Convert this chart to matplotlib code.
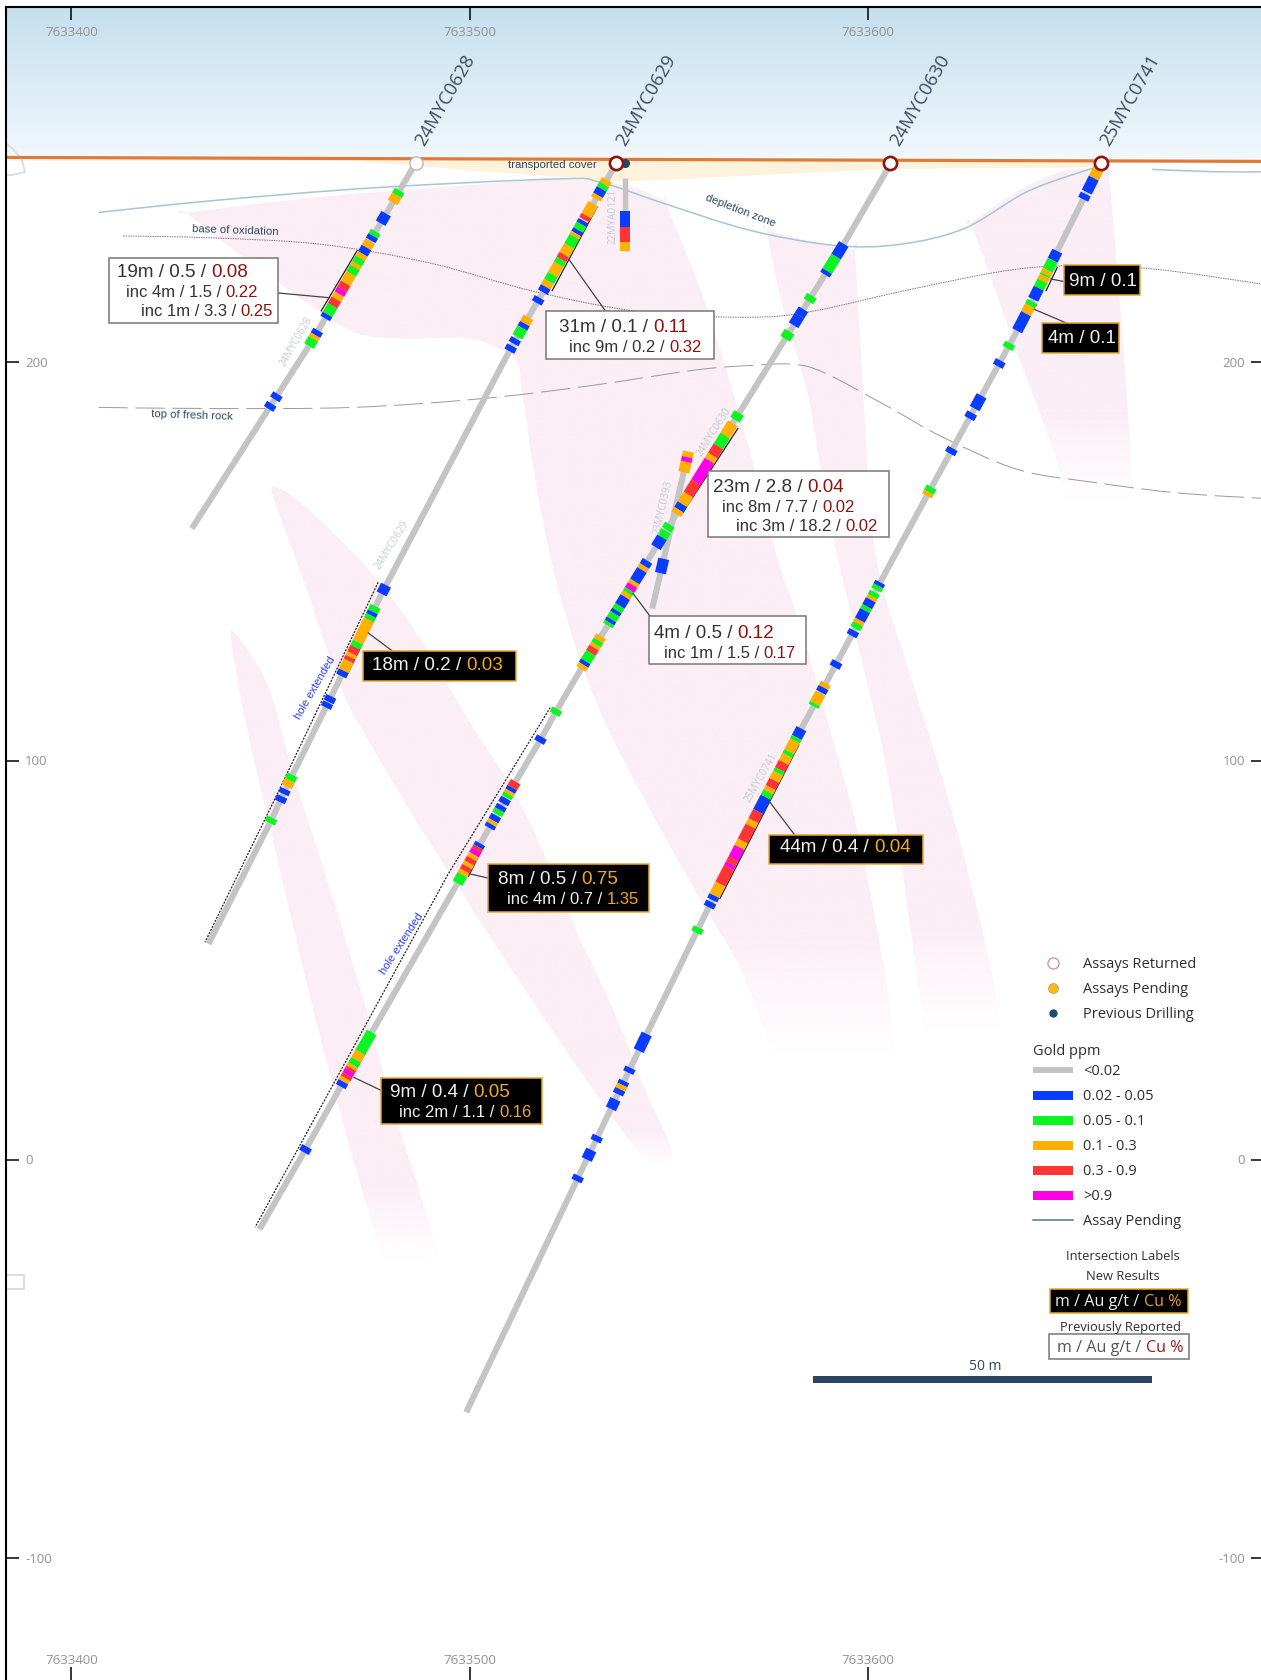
import numpy as np
import matplotlib
matplotlib.use("Agg")
import matplotlib.pyplot as plt
import matplotlib.transforms as mtrans
from matplotlib.path import Path
from matplotlib.patches import PathPatch, Rectangle, Polygon

W, H = 1261, 1680
BASE_NORTHING = 7633400
X_TICKS = [0, 100, 200]
Y_TICKS = [200, 100, 0, -100]

# ---- hole traces: X (m from base northing), RL (m) ----
H628_X = [86.4, 60.2, 30.2]
H628_RL = [250, 205, 158.3]
H629_X = [136.8, 110.4, 78.4, 68, 64.9, 54.6, 50.1, 34.4]
H629_RL = [250, 203.7, 143, 121.9, 115.5, 94.7, 85, 54.1]
H630_X = [205.6, 193.2, 167.7, 154.3, 128.3, 121.7, 117.8, 111.1, 105.3, 97.6, 68.2, 58.7, 47.2]
H630_RL = [249.7, 228.5, 187.4, 165.9, 123.7, 112.5, 105.4, 94.1, 83.9, 70.5, 19.4, 2.4, -17.5]
H741_X = [258.4, 238.4, 215.3, 182.5, 161.8, 143.5, 127.3, 99.1]
H741_RL = [249.7, 209.7, 167.5, 106.7, 67, 29.6, -4.3, -63.4]
HA121_X = [139.0, 139.0]
HA121_RL = [246.2, 228.0]
H393_X = [154.9, 145.8]
H393_RL = [177.5, 138.2]

# ---- assay intervals: top RL, bottom RL, grade (B G O R M) ----
H628_TOP = [243.1,241.9,237.3,232.8,231.7,230.4,228.8,227.2,226.1,224.7,223.8,222.2,219.8,218.3,217.1,215.8,214.2,212,208,206.8,205.9,192,189.6]
H628_BOT = [241.9,240.1,234.9,231.7,230.6,228.8,227.2,226.1,224.7,223.8,222.2,219.8,218.3,217.1,215.8,214.2,212,211,206.8,205.9,204.1,190.7,188.3]
H628_GRADE = "GOBGBOBOGOGORMORGBBOGBB"

H629_TOP = [245.8,244.6,243.5,241.9,239.8,236.8,235.5,234.6,233.2,232.3,231.5,229.2,227,225.8,224.6,222,220.3,218.9,216.2,211.3,209.7,208.6,205.9,204.1,144.1,138.8,137.4,136.5,135.4,129.8,128.5,126.9,126,125.1,122.6,116.2,114.6,96.5,95.1,92.9,91.1,85.7]
H629_BOT = [244.6,243.5,241.9,241,236.8,235.8,234.6,233.2,232.3,231.5,229.2,227,225.8,224.6,222,220.3,218.9,217.6,214.9,209.7,208.6,206.4,204.7,202.8,141.9,137.4,136.5,135.4,129.8,128.5,126.9,126,125.1,122.6,121.3,114.8,113.4,95.1,93.5,91.7,89.7,84.4]
H629_GRADE = "OGBOORBGBOGORGOGOBBOBGBBBGBGOGRORO" + "BBBGOBBG"

H630_TOP = [229.7,226.5,222.9,216.7,213.3,211.7,207.7,187.3,184.7,181.6,178.9,176.6,175.3,169.9,166.8,164.4,163,159.3,157.7,156.1,150.2,148.9,147.9,145,144.1,142.9,142.1,141.1,138.9,137.7,136.9,135.5,134.7,131.3,130.2,129.2,128.4,127.1,125,124.1,113,106,94.8,93.3,92.4,91.7,90.6,88.8,87.7,86.3,85,84.1,79.3,78.4,77.6,76.5,75.5,74.4,73.5,72.4,71.4,31.9,26.9,25,23.7,22.9,22.3,21.2,20.4,19.5,3.2]
H630_BOT = [226.5,222.9,222,215.3,211.7,209.3,205.9,185.6,181.6,178.9,176.6,175.3,169.9,166.8,164.4,163,161.9,158,156.1,153.6,148.9,147.9,145,144.1,142.9,142.1,141.1,138.9,137.7,136.9,135.5,134.7,134,130.2,129.2,128.4,127.1,125,124.1,123.1,111.7,104.7,93.3,92.4,91.7,90.8,89.3,87.7,86.6,85,84.1,83.2,78.4,77.6,76.5,75.5,74.4,73.5,72.4,71.4,69.3,26.9,25,23.7,22.9,22.3,21.2,20.4,19.5,18.3,1.8]
H630_GRADE = ("BGB" + "GBBG" + "G" + "OGROMROBO" + "GGB" + "BOBOMGOBGBGBG" + "OGORGBO" + "G" + "B"
              + "RBOG" + "BBGBOB" + "BRMORORO" + "G" + "GOGORMROB" + "B")

H741_TOP = [248.7,246.2,242.2,227.9,225.6,223.1,222,221.6,220.4,218.6,215.3,214.2,212.2,204.8,200.4,191.6,187.3,178.4,168.7,167.4,144.8,143.9,142.3,141.2,140.4,138.7,137.7,135.3,134.4,132.7,124.9,119.5,118.4,117,114.4,108.1,105.9,105,102.3,101.4,99.6,97.8,96.9,95.1,93.3,92.2,90.9,87.3,85,83.6,79.9,78.3,75.4,74.2,73.2,69.1,66.2,64.6,58.2,31.5,23,19.7,18.7,17.6,15.1,5.9,2.4,-4.1]
H741_BOT = [246.2,242.7,240.9,225.6,223.1,222,221.6,220.4,218.6,215.8,214.2,212.2,207.9,203.5,199,188.4,185.9,177.1,167.4,166.5,143.9,142.9,141.2,140.4,138.7,137.7,135.3,134.4,133.2,131.4,123.5,118.4,117.2,114.4,113.7,105.9,105,102.3,101.4,99.6,97.8,96.9,95.1,93.3,92.2,90.9,87.3,85,83.6,79.9,78.3,75.4,74.2,73.2,69.1,66.2,65.1,63.3,56.9,27.3,21.8,18.7,17.6,16.4,12.7,4.6,0,-5.4]
H741_GRADE = ("OBB" + "BGOGOGB" + "GOB" + "GBBBB" + "GO" + "BGGOBGBOGB" + "B" + "OBOG"
              + "BGOGORGOROGBROROMRMROBB" + "G" + "BBBOBBBBB")

HA121_TOP = [238, 234, 230.1]
HA121_BOT = [234, 230.1, 228]
HA121_GRADE = "BRO"
H393_TOP = [177.6, 176.2, 175, 150.7]
H393_BOT = [176.2, 175, 172.4, 147.1]
H393_GRADE = "OMOB"

GRADE_LABELS = ["<0.02", "0.02 - 0.05", "0.05 - 0.1", "0.1 - 0.3", "0.3 - 0.9", ">0.9", "Assay Pending"]
GRADE_COLORS = {"N": "#c4c4c4", "B": "#0a3cff", "G": "#0cf522", "O": "#ffb000", "R": "#ff3535", "M": "#ff00e6"}

# ---- geology ----
DEPL1_X = [6.8,35.9,76.2,122,132.7,148.9,170.4,191.9,208,224.2,240.3,256.5]
DEPL1_RL = [237.6,240.6,243.8,246,245.2,239.8,233.1,229.3,229.6,233.6,243,248.7]
DEPL2_X = [271.3,287.4,298.9]
DEPL2_RL = [248.4,247.8,247.8]
OXID_X = [13,35.9,62.7,89.6,116.5,143.4,170.4,186.5,210.7,240.3,268.3,298.9]
OXID_RL = [231.7,231.2,229.6,225,217.7,212.6,211.3,212.9,218.3,223.7,223.7,219.6]
FRESH_X = [6.8,35.9,70.9,103.1,130,156.9,170.4,181.1,189.2,205.3,218.8,237.6,256.5,278,298.9]
FRESH_RL = [188.7,188.4,188.7,190.9,194.1,198.1,199.2,199.5,197.3,188.7,181.2,173.1,169.9,167.2,165.9]
COVER_X = [65.6,99.7,139,164.5,205.7,258.7,260.8,205,136]
COVER_RL = [251,248.2,245.3,246.6,248.5,248.9,250.5,250.8,251]
GROUND_X = [-16.44, 299.3]
GROUND_RL = [251.4, 250.4]

# repeated vertices keep the sharp corners of the zones
ZONE_A_X = [28.8,28.8,60.5,94.1,121,139,149,149,157.8,164.1,170.1,177,183,190,197.9,204.8,206.5,206.5,178,178,169.1,158.2,145.3,132.4,123.4,117.5,113.5,112.1,108.7,99.7,82.9,71.7,60.5,49.3,38.1]
ZONE_A_RL = [237.5,237.5,241.3,244,245.8,244.4,240.4,240.4,218.5,199,178.5,151.6,133.7,109.4,80,42.9,25,25,20,20,45.4,64.6,87.6,113.2,138.8,164.4,190,199.6,202.8,206,206,207.3,214,222,230.1]
ZONE_B_X = [174.5,174.5,185,196.7,196.7,198.3,198.9,201.9,210.8,221.7,231.7,233.5,233.5,215,215,205.8,197.9,190,185,178.2]
ZONE_B_RL = [233.2,233.2,230.5,228.3,228.3,201.4,190,151.6,120.9,85,44.1,28,28,25,25,91.5,127.3,161.9,191.3,215.6]
ZONE_C_X = [225.8,225.8,238.5,249.1,256.5,260.3,260.3,262.9,265.5,266.1,266.3,266.3,251.2,251.2,247,238.5,231.1]
ZONE_C_RL = [235,235,243.5,248,248.7,248.9,248.9,219.4,183.5,171.9,160,160,158,158,176.3,199.6,220.3]
ZONE_D_X = [50.8,57.4,69.9,79.1,89.2,99.2,110.1,118.5,126.8,136,144.4,150.7,147.3,140.2,124.3,107.6,97.5,86.7,74.9,67.4,57.4,51.1]
ZONE_D_RL = [168.8,164.9,153.1,142.6,128.1,111,94,77,57.3,37.6,16.6,2.1,-1.8,4.8,27.1,52,67.8,84.8,104.5,118.9,147.8,164.9]
ZONE_E_X = [40.6,44.8,49.8,55.7,64.1,73.3,80,87.5,92,92,79.1,79.1,70.8,60.7,50.7,44,40.2]
ZONE_E_RL = [132.5,126.8,117.6,96.6,70.4,40.2,15.3,-8.4,-24,-24,-28,-28,-0.2,37.6,79.6,108.4,129.4]
ZONE_FADE = [(58, 26), (60, 32), (188, 165), (7.4, -1.8), (-5.7, -25.4)]

# ---- brackets beside intersections and leaders to labels ----
BRACKETS = [[(71.7,228),(62.7,212.9)], [(131.9,238.9),(120.7,218)], [(76.2,136),(69.3,121.8)],
            [(167.3,183.4),(153.2,161.9)], [(141.9,144.7),(140.4,141.4)], [(103,77.8),(99.7,71.1)],
            [(73.7,26.6),(69.9,19.9)], [(182.6,104),(162.8,65.5)], [(247.5,223.8),(244.7,218)],
            [(242.2,214.4),(240.7,212.2)]]
LEADERS = [[(51.8,217.4),(64.8,216.2)], [(124.9,225.8),(133.9,213.1)], [(74.5,132.1),(80.4,127.7)],
           [(141,142),(145.2,136.4)], [(99.9,71.7),(104.6,70.6)], [(70.9,20.6),(77.6,17.4)],
           [(175.3,89.7),(181.6,81.4)], [(245.9,220.9),(249,220.3)], [(241.7,213.3),(249.7,209.9)]]
EXT_629_X = [77, 52.3, 33.5]
EXT_629_RL = [144.8, 93, 54.5]
EXT_630_X = [120.2, 94.5, 46.1]
EXT_630_RL = [113.4, 71.5, -17]

HOLE_NAMES = ["24MYC0628", "24MYC0629", "24MYC0630", "25MYC0741"]

# ---- figure ----
fig = plt.figure(figsize=(W/100, H/100), dpi=100, facecolor="white")
ax = fig.add_axes([6/W, 0, (1263.5-6)/W, (H-7)/H])
XLIM = (-16.44, 299.27)
YLIM = (-130.58, 289.14)
ax.set_xlim(*XLIM)
ax.set_ylim(*YLIM)
PX = mtrans.Affine2D().scale(1/W, -1/H).translate(0, 1) + fig.transFigure
SANS = ["Open Sans", "DejaVu Sans"]
ARIAL = ["Liberation Sans", "DejaVu Sans"]

for s in ("right", "bottom"):
    ax.spines[s].set_visible(False)
for s in ("left", "top"):
    ax.spines[s].set_linewidth(1.5)
ax.set_xticks(X_TICKS)
ax.set_yticks(Y_TICKS)
ax.tick_params(axis="both", direction="in", length=9.4, width=1.1,
               top=True, bottom=True, left=True, right=True,
               labelleft=False, labelbottom=False)
xtr = mtrans.blended_transform_factory(ax.transData, PX)
ytr = mtrans.blended_transform_factory(PX, ax.transData)
TICK_C = "#929292"
for t in X_TICKS:
    for py in (32.4, 1660.3):
        ax.text(t, py, str(BASE_NORTHING + t), transform=xtr, ha="center", va="center",
                color=TICK_C, fontsize=9.5, family=SANS)
ytr2 = ytr + mtrans.ScaledTranslation(0, -1/100, fig.dpi_scale_trans)
for t in Y_TICKS:
    ax.text(25, t, str(t), transform=ytr2, ha="left", va="center", color=TICK_C, fontsize=9.5, family=SANS)
    ax.text(1245, t, str(t), transform=ytr2, ha="right", va="center", color=TICK_C, fontsize=9.5, family=SANS)

# sky
sky = np.linspace(0, 1, 256)[:, None, None]
top_c = np.array([196, 223, 237]) / 255
bot_c = np.array([242, 249, 254]) / 255
ax.imshow(top_c + (bot_c - top_c) * sky, extent=[XLIM[0], XLIM[1], 250.5, YLIM[1]],
          aspect="auto", origin="upper", zorder=0)


def smooth(xs, ys, closed=False):
    p = np.column_stack([xs, ys]).astype(float)
    n = len(p)
    verts = [p[0]]
    codes = [Path.MOVETO]
    for i in range(n if closed else n - 1):
        if closed:
            p0, p1, p2, p3 = p[(i-1) % n], p[i], p[(i+1) % n], p[(i+2) % n]
        else:
            p0, p1, p2, p3 = p[max(i-1, 0)], p[i], p[i+1], p[min(i+2, n-1)]
        # repeated vertices make a sharp corner
        t1 = np.zeros(2) if np.allclose(p0, p1) else (p2 - p0) / 6
        t2 = np.zeros(2) if np.allclose(p2, p3) else (p3 - p1) / 6
        verts += [p1 + t1, p2 - t2, p2]
        codes += [Path.CURVE4] * 3
    if closed:
        verts.append(p[0])
        codes.append(Path.CLOSEPOLY)
    return Path(verts, codes)


PINK = np.array([251, 238, 245]) / 255
zones = [(ZONE_A_X, ZONE_A_RL), (ZONE_B_X, ZONE_B_RL), (ZONE_C_X, ZONE_C_RL), (ZONE_D_X, ZONE_D_RL), (ZONE_E_X, ZONE_E_RL)]
for (zx, zy), (fa, fb) in zip(zones, ZONE_FADE):
    rows = np.linspace(max(zy) + 2, min(zy) - 2, 400)
    alpha = np.clip((rows - fb) / (fa - fb), 0, 1)
    rgba = np.ones((400, 1, 4))
    rgba[..., :3] = PINK
    rgba[:, 0, 3] = alpha
    im = ax.imshow(rgba, extent=[min(zx) - 2, max(zx) + 2, min(zy) - 2, max(zy) + 2],
                   aspect="auto", origin="upper", zorder=1)
    patch = PathPatch(smooth(zx, zy, closed=True), transform=ax.transData, fc="none", ec="none")
    im.set_clip_path(patch)
ax.set_xlim(*XLIM)
ax.set_ylim(*YLIM)

ax.add_patch(Polygon(np.column_stack([COVER_X, COVER_RL]), closed=True, fc="#fdf3dd", ec="none", zorder=1.5))
ax.add_patch(PathPatch(smooth(DEPL1_X, DEPL1_RL), fc="none", ec="#a5c6d6", lw=1.1, zorder=2))
ax.add_patch(PathPatch(smooth(DEPL2_X, DEPL2_RL), fc="none", ec="#a5c6d6", lw=1.1, zorder=2))
ax.add_patch(PathPatch(smooth(OXID_X, OXID_RL), fc="none", ec="#777777", lw=0.7, ls=(0, (1.5, 1)), zorder=2))
ax.add_patch(PathPatch(smooth(FRESH_X, FRESH_RL), fc="none", ec="#999999", lw=0.7, ls=(0, (30, 8)), zorder=2))
ax.plot(GROUND_X, GROUND_RL, color="#e17a36", lw=2.3, zorder=2.5, solid_capstyle="butt")


def draw_hole(hx, hrl, top, bot, grade, lw_trace=4.4, lw_int=8.0):
    assert len(top) == len(bot) == len(grade), (len(top), len(bot), len(grade))
    ax.plot(hx, hrl, color=GRADE_COLORS["N"], lw=lw_trace, solid_capstyle="butt", zorder=3)
    rx = np.array(hrl[::-1], float)
    ry = np.array(hx[::-1], float)
    for a, b, g in zip(top, bot, grade):
        ax.plot([np.interp(a, rx, ry), np.interp(b, rx, ry)], [a, b], color=GRADE_COLORS[g],
                lw=lw_int, solid_capstyle="butt", zorder=4)


draw_hole(HA121_X, HA121_RL, HA121_TOP, HA121_BOT, HA121_GRADE, 3.9, 7.2)
draw_hole(H393_X, H393_RL, H393_TOP, H393_BOT, H393_GRADE)
draw_hole(H628_X, H628_RL, H628_TOP, H628_BOT, H628_GRADE)
draw_hole(H629_X, H629_RL, H629_TOP, H629_BOT, H629_GRADE)
draw_hole(H630_X, H630_RL, H630_TOP, H630_BOT, H630_GRADE)
draw_hole(H741_X, H741_RL, H741_TOP, H741_BOT, H741_GRADE)

for seg in BRACKETS:
    ax.plot(*zip(*seg), color="#222222", lw=0.9, zorder=3.8)
for seg in LEADERS:
    ax.plot(*zip(*seg), color="#444444", lw=0.9, zorder=4.5)
for ex, ey in ((EXT_629_X, EXT_629_RL), (EXT_630_X, EXT_630_RL)):
    ax.plot(ex, ey, color="#222222", lw=0.9, ls=(0, (1.6, 1.1)), zorder=3.5)

# collars
ax.plot([139.0], [249.9], "o", ms=5.5, color="#1d4a66", zorder=4.8)
ax.plot([86.4], [249.9], "o", ms=9.5, mfc="white", mec="#b8b8b8", mew=1, zorder=5)
for cx in (136.8, 205.6, 258.4):
    ax.plot([cx], [249.9], "o", ms=9.5, mfc="white", mec="#8b1414", mew=1.9, zorder=5)

# hole names
for name, cx in zip(HOLE_NAMES, (86.4, 136.8, 205.6, 258.4)):
    ax.text(cx + 1.1, 254.6, name, rotation=60, rotation_mode="anchor", ha="left", va="center",
            color="#3f4c5c", fontsize=13.3, family=SANS, zorder=6)

# small trace names
for name, px, py, rot in [("24MYC0628", 296, 342, 60), ("22MYA0121", 613.5, 216, 90),
                          ("24MYC0629", 392.5, 545, 58), ("23MYC0393", 663, 507, 77),
                          ("24MYC0630", 714, 432, 58), ("25MYC0741", 761.5, 778, 60)]:
    ax.text(px, py, name, transform=PX, rotation=rot, rotation_mode="anchor", ha="center", va="center",
            color="#c5cbd3", fontsize=7.2, family=SANS, zorder=6)

# geology labels
NAVY = "#2b4a60"
for s, px, py, rot, size in [("base of oxidation", 235.7, 230.5, -2, 8.2), ("top of fresh rock", 192, 415, -2, 8.2),
                             ("transported cover", 552, 165.5, 0, 8.2), ("depletion zone", 740, 211, -21, 8.2)]:
    ax.text(px, py, s, transform=PX, rotation=rot, rotation_mode="anchor", ha="center", va="center",
            color=NAVY, fontsize=size, family=ARIAL, zorder=6)
for px, py, rot in [(315, 687.5, 60), (401.4, 944, 57)]:
    ax.text(px, py, "hole extended", transform=PX, rotation=rot, rotation_mode="anchor", ha="center", va="center",
            color="#2a3cff", fontsize=8, family=ARIAL, zorder=6)

renderer = fig.canvas.get_renderer()


def width_of(s, size, family):
    t = ax.text(0, 0, s + "|", transform=PX, fontsize=size, family=family)
    w = t.get_window_extent(renderer).width
    t.set_text("|")
    w -= t.get_window_extent(renderer).width
    t.remove()
    return w


def rich(x, y, left, right, size, c1, c2, family=ARIAL, z=7):
    y = y + 1.5
    ax.text(x, y, left, transform=PX, va="center", ha="left", color=c1, fontsize=size, family=family, zorder=z)
    if right:
        ax.text(x + width_of(left, size, family), y, right, transform=PX, va="center", ha="left",
                color=c2, fontsize=size, family=family, zorder=z)


def box(x0, x1, y0, y1, dark):
    ax.add_patch(Rectangle((x0, y0), x1-x0, y1-y0, transform=PX, fc="black" if dark else "white",
                           ec="#e8a92a" if dark else "#777777", lw=1.1, zorder=6.5))


OLD_TXT, OLD_CU, NEW_TXT, NEW_CU = "#333333", "#8f1212", "#f0f0f0", "#f2a91e"
LABELS = [
    (False, 109.4, 277.7, 257.9, 322.5, [(117, 271, "19m / 0.5 / ", "0.08", 13.6), (126, 291.4, "inc 4m / 1.5 / ", "0.22", 12), (140.6, 310, "inc 1m / 3.3 / ", "0.25", 12)]),
    (False, 546.4, 713.8, 310.7, 359, [(559, 326, "31m / 0.1 / ", "0.11", 13.6), (569, 345.7, "inc 9m / 0.2 / ", "0.32", 12)]),
    (True, 363, 516, 651, 680.7, [(371.8, 664.3, "18m / 0.2 / ", "0.03", 13.6)]),
    (False, 708.3, 889.3, 471.4, 536.8, [(712.7, 485.7, "23m / 2.8 / ", "0.04", 13.6), (722.3, 505.7, "inc 8m / 7.7 / ", "0.02", 12), (736, 525, "inc 3m / 18.2 / ", "0.02", 12)]),
    (False, 649.3, 806, 616.4, 664.3, [(654, 632, "4m / 0.5 / ", "0.12", 13.6), (664, 651.8, "inc 1m / 1.5 / ", "0.17", 12)]),
    (True, 487.9, 648.6, 864, 911.8, [(497.5, 877.9, "8m / 0.5 / ", "0.75", 13.6), (507, 898.2, "inc 4m / 0.7 / ", "1.35", 12)]),
    (True, 380.7, 541.7, 1078.3, 1124, [(390, 1091, "9m / 0.4 / ", "0.05", 13.6), (399.3, 1111, "inc 2m / 1.1 / ", "0.16", 12)]),
    (True, 769.3, 922.7, 834.6, 864.3, [(780, 846.4, "44m / 0.4 / ", "0.04", 13.6)]),
    (True, 1063.7, 1139.6, 265.4, 295.4, [(1068.8, 280.4, "9m / 0.1", "", 13.6)]),
    (True, 1041.8, 1118.5, 323.2, 352.9, [(1047.7, 337, "4m / 0.1", "", 13.6)]),
]
for dark, x0, x1, y0, y1, lines in LABELS:
    box(x0, x1, y0, y1, dark)
    for lx, ly, a, b, size in lines:
        rich(lx, ly, a, b, size, NEW_TXT if dark else OLD_TXT, NEW_CU if dark else OLD_CU)

# legend
LEG_TXT = "#2e2e2e"
for s, py in [("Assays Returned", 964.5), ("Assays Pending", 989.2), ("Previous Drilling", 1014.8)]:
    ax.text(1083.3, py, s, transform=PX, va="center", ha="left", color=LEG_TXT, fontsize=10.5, family=SANS, zorder=7)
ax.plot([1052.7], [963], "o", transform=PX, ms=8, mfc="white", mec="#d98a8a", mew=0.9, zorder=7)
ax.plot([1052.7], [987.7], "o", transform=PX, ms=7.2, mfc="#fdb813", mec="#b0a070", mew=0.5, zorder=7)
ax.plot([1052.7], [1013.3], "o", transform=PX, ms=5, color="#1d4e6e", zorder=7)
ax.text(1033.3, 1051.5, "Gold ppm", transform=PX, va="center", ha="left", color=LEG_TXT, fontsize=10.5, family=SANS, zorder=7)
LEG_Y = [1070.3, 1095.3, 1120.3, 1145.3, 1170.3, 1195.3, 1220.3]
for lab, py, code in zip(GRADE_LABELS, LEG_Y, "NBGORMP"):
    if code == "P":
        ax.plot([1033, 1073], [py, py], transform=PX, color="#4a7a95", lw=1.1, zorder=7)
    else:
        hgt = 6 if code == "N" else 8.5
        ax.add_patch(Rectangle((1033.3, py-hgt/2), 39.5, hgt, transform=PX, fc=GRADE_COLORS[code], ec="none", zorder=7))
    ax.text(1083.3, py + 1.5, lab, transform=PX, va="center", ha="left", color=LEG_TXT, fontsize=10.5, family=SANS, zorder=7)
for s, px, py in [("Intersection Labels", 1123.3, 1256.5), ("New Results", 1122.7, 1276.5), ("Previously Reported", 1120, 1327)]:
    ax.text(px, py, s, transform=PX, va="center", ha="center", color=LEG_TXT, fontsize=9.3, family=SANS, zorder=7)
box(1050, 1188.3, 1289.3, 1313.3, True)
rich(1055.3, 1300, "m / Au g/t / ", "Cu %", 11.6, NEW_TXT, "#e8a020", SANS)
box(1049.3, 1189, 1334.3, 1359, False)
rich(1057.3, 1346.7, "m / Au g/t / ", "Cu %", 11.6, "#555555", "#a01818", SANS)
ax.add_patch(Rectangle((813.2, 1376), 338.5, 7.3, transform=PX, fc="#2c4560", ec="none", zorder=7))
ax.text(985.7, 1366.5, "50 m", transform=PX, va="center", ha="center", color=NAVY, fontsize=10, family=SANS, zorder=7)

# faint ghost marks at the left edge
ax.plot([6, 14, 22, 25, 12, 6], [143, 150, 160, 172, 175, 175], transform=PX, color="#dddddd", lw=1.4, zorder=2)
ax.plot([6, 24, 24, 6], [1275, 1275, 1289, 1289], transform=PX, color="#dddddd", lw=1.4, zorder=2)

fig.savefig("out.png", dpi=100, facecolor="white")
